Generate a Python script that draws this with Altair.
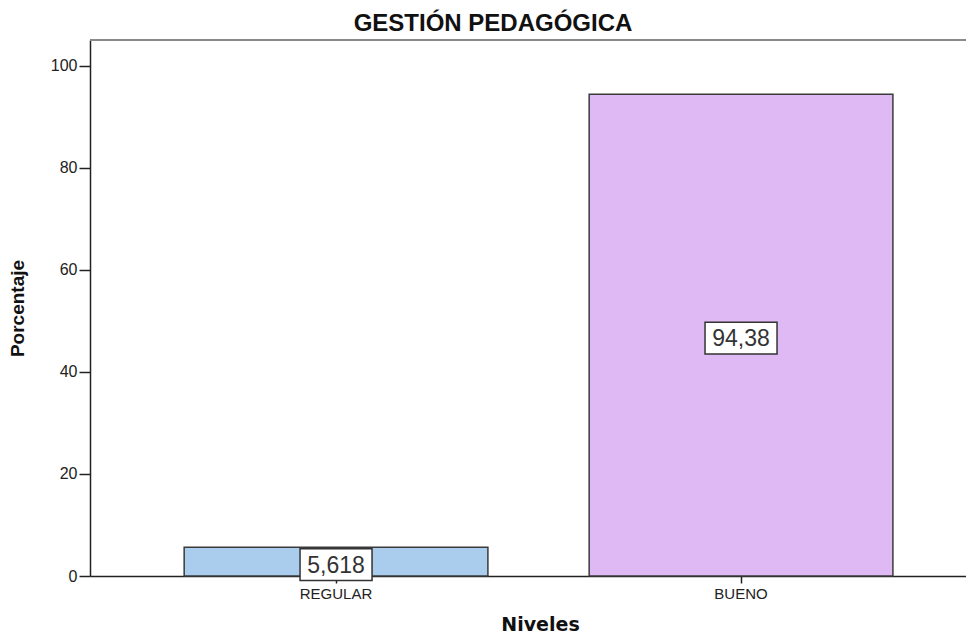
import altair as alt
import pandas as pd

# ---- data ----
categories = ["REGULAR", "BUENO"]
values = [5.618, 94.38]
labels = ["5,618", "94,38"]
colors = ["#aacdee", "#dfb9f3"]
y_ticks = [0, 20, 40, 60, 80, 100]
y_max = [105]

df = pd.DataFrame({"Nivel": categories, "Porcentaje": values, "label": labels})
df["mid"] = df["Porcentaje"] / 2
top_df = pd.DataFrame({"top": y_max})

W, H = 876, 536

x_scale = alt.Scale(paddingInner=0.25, paddingOuter=0.2065, align=0.563)
y_scale = alt.Scale(domain=[0, y_max[0]], nice=False)

x_enc = alt.X(
    "Nivel:N", sort=categories, scale=x_scale,
    axis=alt.Axis(
        title="Niveles", labelAngle=0, labelFont="Liberation Sans", labelFontSize=15,
        labelColor="#222", labelPadding=3, tickSize=7, tickColor="#222", tickWidth=1.5,
        domainColor="#222", domainWidth=1.5,
        titleFont="DejaVu Sans", titleFontSize=19, titleFontWeight="bold", titleColor="#111",
        titleX=450, titleY=48, titleBaseline="middle", titleAlign="center",
    ),
)
y_enc = alt.Y(
    "Porcentaje:Q", scale=y_scale,
    axis=alt.Axis(
        values=y_ticks, title="Porcentaje", grid=False,
        labelFont="Liberation Sans", labelFontSize=16, labelColor="#222", labelPadding=2,
        tickSize=11, tickColor="#222", tickWidth=1.5, domainColor="#222", domainWidth=1.5,
        titleFont="Liberation Sans", titleFontSize=19, titleFontWeight="bold", titleColor="#111",
        titleX=-73, titleY=268, titleBaseline="middle", titleAlign="center", titleAngle=270,
    ),
)

bars = alt.Chart(df).mark_bar(stroke="#3a3a3a", strokeWidth=1.5).encode(
    x=x_enc,
    y=y_enc,
    color=alt.Color("Nivel:N", scale=alt.Scale(domain=categories, range=colors), legend=None),
)

box_path = "M-1,-0.44L1,-0.44L1,0.44L-1,0.44Z"
boxes = alt.Chart(df).mark_point(
    shape=box_path, size=72 * 72, filled=True, fill="white", stroke="#333",
    strokeWidth=1.5, opacity=1, yOffset=3,
).encode(x=alt.X("Nivel:N", sort=categories), y=alt.Y("mid:Q"))

texts = alt.Chart(df).mark_text(
    font="Liberation Sans", fontSize=23, color="#333", baseline="middle", yOffset=4,
).encode(x=alt.X("Nivel:N", sort=categories), y=alt.Y("mid:Q"), text="label:N")

top_line = alt.Chart(top_df).mark_rule(color="#8a8a8a", strokeWidth=2).encode(y=alt.Y("top:Q"))

chart = alt.layer(top_line, bars, boxes, texts).properties(
    width=W,
    height=H,
    padding={"left": 82, "top": 32, "right": 0, "bottom": 58},
    autosize=alt.AutoSizeParams(type="none"),
    title=alt.TitleParams(
        "GESTIÓN PEDAGÓGICA", font="Liberation Sans", fontSize=24, fontWeight="bold",
        color="#111", anchor="middle", dx=-35, dy=23, offset=7, baseline="alphabetic",
    ),
).configure_view(stroke=None)

chart.save("out.html", embed_options={"renderer": "svg", "actions": False})
